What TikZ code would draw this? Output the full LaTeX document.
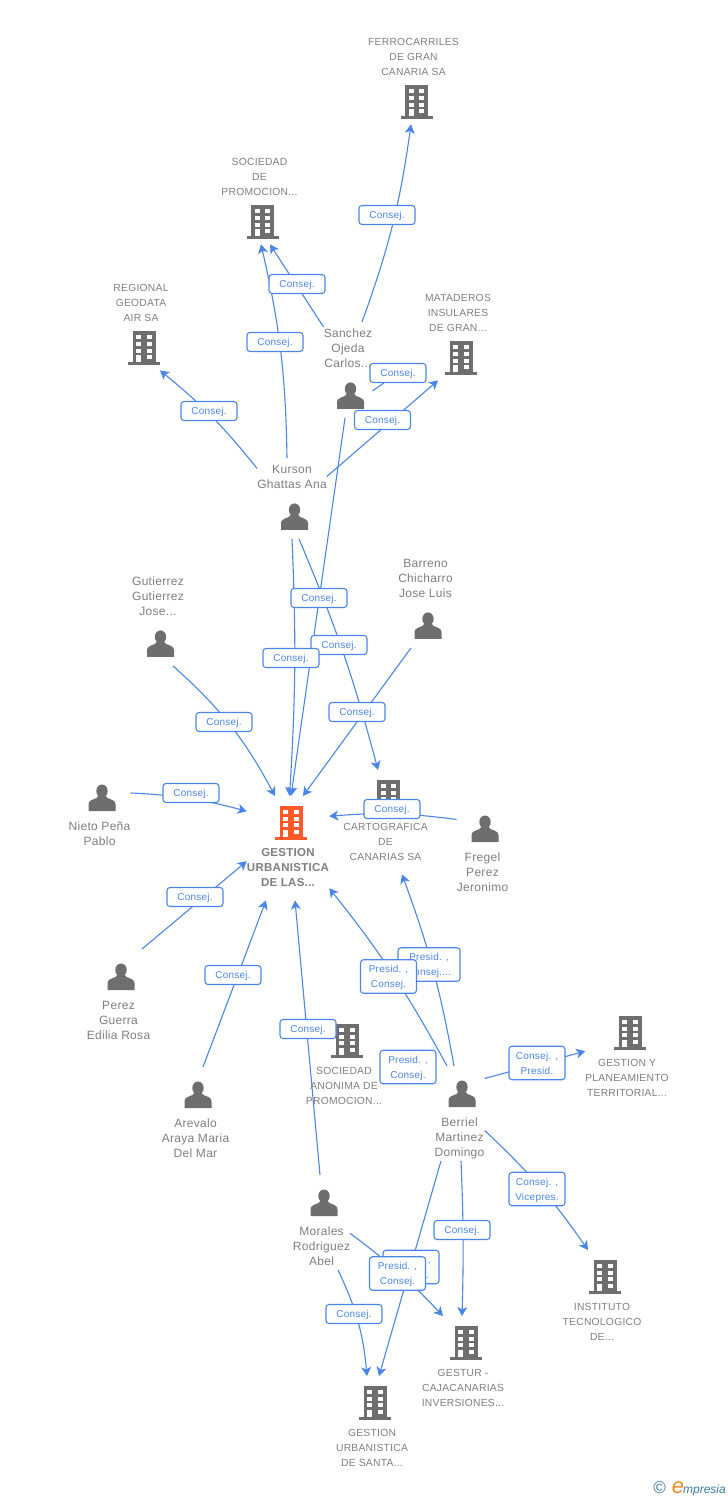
\documentclass[tikz,border=0pt]{standalone}
\usepackage{fontspec}
\setmainfont{Liberation Sans}
\newfontfamily\spaced[LetterSpace=2.5]{Liberation Sans}
\usetikzlibrary{arrows.meta,backgrounds}

\definecolor{iconGray}{HTML}{6E6E6E}
\definecolor{textGray}{HTML}{7E7E7E}
\definecolor{mainOrange}{HTML}{FF5A2A}
\definecolor{linkBlue}{HTML}{4A86E8}
\definecolor{logoBlue}{HTML}{3A7A9C}
\definecolor{logoOrange}{HTML}{F08A24}

% text above or below the icon, the node's box takes both
\newcommand{\firmdown}[1]{\rule{0pt}{45pt}\\#1\rule[-14pt]{0pt}{0pt}}
\newcommand{\firmup}[1]{\rule{0pt}{16pt}#1\rule[-49pt]{0pt}{0pt}}
\newcommand{\mandown}[1]{\rule{0pt}{45.5pt}\\#1\rule[-4pt]{0pt}{0pt}}
\newcommand{\manup}[1]{\rule{0pt}{15.5pt}#1\rule[-50pt]{0pt}{0pt}}

\tikzset{
	box/.style={anchor=north,align=center,inner sep=0pt,text=textGray},
	firm/.style={box,font=\spaced\fontsize{10.3}{15}\selectfont},
	man/.style={box,font=\spaced\fontsize{12}{15}\selectfont},
	tag/.style={draw=linkBlue,line width=1.1pt,fill=white,rounded corners=3pt,align=center,inner sep=0pt,text depth=0pt,
		minimum width=56pt,minimum height=19pt,text=linkBlue,font=\spaced\fontsize{10}{15}\selectfont},
	tagtwo/.style={tag,minimum height=33.5pt},
	link/.style={draw=linkBlue,line width=1.1pt,->},
	pics/firmicon/.style={code={
		\fill[#1] (-11.5,-17) rectangle (11.5,15);
		\fill[#1] (-16,14) rectangle (16,17);
		\foreach \wy in {-13,-6.3,0.3} {
			\fill[white] (-7.7,\wy) rectangle ++(5,4);
			\fill[white] (2.8,\wy) rectangle ++(5,4);
		}
		\fill[white] (-7.7,7) rectangle (-2.7,14);
		\fill[white] (2.8,7) rectangle ++(5,4);
	}},
	pics/firmicon/.default=iconGray,
	pics/manicon/.style={code={
		\fill[iconGray] (0,-7) ellipse (5.7 and 6.5);
		\fill[iconGray] (-13.5,13) -- (-13.5,6) .. controls (-13.5,2.5) and (-9,1.5) .. (-5.5,0) -- (-3,-3) -- (3,-3) -- (5.5,0)
			.. controls (9,1.5) and (13.5,2.5) .. (13.5,6) -- (13.5,13) -- cycle;
	}},
}

\begin{document}
\begin{tikzpicture}[x=1pt,y=-1pt,>={Stealth[length=9pt,width=10pt,inset=2.5pt]}]
	\path[use as bounding box] (0,0) rectangle (728,1500);

	\node[firm] (ferro) at (413.5,29) {\firmup{FERROCARRILES\\DE GRAN\\CANARIA SA}};
	\node[firm] (socprom) at (259.5,149) {\firmup{SOCIEDAD\\DE\\PROMOCION...}};
	\node[firm] (regional) at (141,275) {\firmup{REGIONAL\\GEODATA\\AIR SA}};
	\node[firm] (mataderos) at (458,285) {\firmup{MATADEROS\\INSULARES\\DE GRAN...}};
	\node[firm] (carto) at (385.5,770) {\firmdown{CARTOGRAFICA\\DE\\CANARIAS SA}};
	\node[firm,font=\spaced\bfseries\fontsize{11.5}{15}\selectfont] (main) at (288,796) {\firmdown{GESTION\\URBANISTICA\\DE LAS...}};
	\node[firm] (socanon) at (344,1014) {\firmdown{SOCIEDAD\\ANONIMA DE\\PROMOCION...}};
	\node[firm] (planea) at (627,1006) {\firmdown{GESTION Y\\PLANEAMIENTO\\TERRITORIAL...}};
	\node[firm] (instituto) at (602,1250) {\firmdown{INSTITUTO\\TECNOLOGICO\\DE...}};
	\node[firm] (gestur) at (463,1316) {\firmdown{GESTUR -\\CAJACANARIAS\\INVERSIONES...}};
	\node[firm] (santa) at (372,1376) {\firmdown{GESTION\\URBANISTICA\\DE SANTA...}};

	\node[man] (sanchez) at (348,322) {\manup{Sanchez\\Ojeda\\Carlos...}};
	\node[man] (kurson) at (292,458) {\manup{Kurson\\Ghattas Ana}};
	\node[man] (barreno) at (425.5,552) {\manup{Barreno\\Chicharro\\Jose Luis}};
	\node[man] (gutierrez) at (158,570) {\manup{Gutierrez\\Gutierrez\\Jose...}};
	\node[man] (nieto) at (99.5,770) {\mandown{Nieto Peña\\Pablo}};
	\node[man] (fregel) at (482.5,801) {\mandown{Fregel\\Perez\\Jeronimo}};
	\node[man] (perez) at (118.5,949) {\mandown{Perez\\Guerra\\Edilia Rosa}};
	\node[man] (arevalo) at (195.5,1067) {\mandown{Arevalo\\Araya Maria\\Del Mar}};
	\node[man] (berriel) at (459.5,1066) {\mandown{Berriel\\Martinez\\Domingo}};
	\node[man] (morales) at (321.5,1175) {\mandown{Morales\\Rodriguez\\Abel}};

	% icons
	\foreach \n in {ferro,socprom,regional,mataderos}
		\pic at ([shift={(3,-22)}]\n.south) {firmicon};
	\foreach \n in {carto,socanon,planea,instituto,gestur,santa}
		\pic at ([shift={(3,27)}]\n.north) {firmicon};
	\pic at ([shift={(3,27)}]main.north) {firmicon=mainOrange};
	\foreach \n in {sanchez,kurson,barreno,gutierrez}
		\pic at ([shift={(2.5,-22)}]\n.south) {manicon};
	\foreach \n in {nieto,fregel,perez,arevalo,berriel,morales}
		\pic at ([shift={(2.5,28)}]\n.north) {manicon};

	\node[tag] (tFerro) at (387,215) {Consej.};
	\node[tag] (tProm1) at (297,284) {Consej.};
	\node[tag] (tProm2) at (275,342) {Consej.};
	\node[tag] (tRegional) at (209,411) {Consej.};
	\node[tag] (tMat1) at (398,373) {Consej.};
	\node[tag] (tMat2) at (382.5,420) {Consej.};
	\node[tag] (tSanchez) at (319,598) {Consej.};
	\node[tag] (tKursonC) at (339,645) {Consej.};
	\node[tag] (tKurson) at (291,658) {Consej.};
	\node[tag] (tBarreno) at (357,712) {Consej.};
	\node[tag] (tGut) at (224,722) {Consej.};
	\node[tag] (tNieto) at (191,793) {Consej.};
	\node[tag] (tFregel) at (392,809) {Consej.};
	\node[tag] (tPerez) at (195,897) {Consej.};
	\node[tag] (tArevalo) at (233,975) {Consej.};
	\node[tag] (tMorales) at (308,1029) {Consej.};
	\node[tagtwo,minimum width=62pt] (tBerCarto) at (429,964.5) {Presid. ,\\Consej....};
	\node[tagtwo] (tBerMain) at (388.5,976.5) {Presid. ,\\Consej.};
	\node[tagtwo] (tBerAnon) at (408,1067) {Presid. ,\\Consej.};
	\node[tagtwo] (tPlanea) at (537,1063) {Consej. ,\\Presid.};
	\node[tagtwo] (tInst) at (537,1189) {Consej. ,\\Vicepres.};
	\node[tag] (tGestur) at (462,1230) {Consej.};
	\node[tagtwo] (tMorGestur) at (411,1267) {Presid. ,\\Consej.};
	\node[tagtwo] (tSanta) at (397.5,1273.5) {Presid. ,\\Consej.};
	\node[tag] (tMorSanta) at (354,1314) {Consej.};

	\node (logo) [anchor=east,inner sep=0pt] at (726,1489) {{\color{logoBlue}\fontsize{17}{17}\selectfont ©}\hspace{6pt}{\color{logoOrange}\fontsize{22}{22}\selectfont\itshape e}\hspace{-1pt}{\color{logoBlue}\fontsize{12}{12}\selectfont\itshape mpresia}};

	\begin{scope}[on background layer]
		\draw[link] ([xshift=14pt]sanchez.north) to[bend right=6] ([xshift=-2.5pt]ferro.south);
		\draw[link] ([yshift=43pt]sanchez.west) to ([xshift=10.5pt]socprom.south);
		\draw[link] ([xshift=-5pt]kurson.north) to[bend right=6] ([xshift=1.5pt]socprom.south);
		\draw[link] ([yshift=30pt]kurson.west) to[bend right=6] ([xshift=19pt]regional.south);
		\draw[link,-] ([yshift=-21pt]sanchez.east) to (tMat1);
		\draw[link] ([yshift=22pt]kurson.east) to ([xshift=-20pt]mataderos.south);
		\draw[link] ([xshift=-3pt]sanchez.south) to ([xshift=3pt]main.north);
		\draw[link] ([xshift=7pt]kurson.south) to[bend left=4] ([xshift=-7.5pt]carto.north);
		\draw[link] (kurson.south) to[bend left=3] ([xshift=1.5pt]main.north);
		\draw[link] ([xshift=-14.5pt]barreno.south) to ([xshift=15pt]main.north);
		\draw[link] ([xshift=15pt]gutierrez.south) to[bend left=10] ([xshift=-13pt]main.north);
		\draw[link] ([yshift=17pt]nieto.east) to[bend left=6] ([yshift=37pt]main.west);
		\draw[link] ([yshift=29pt]fregel.west) to[bend right=6] ([yshift=32pt]main.east);
		\draw[link] ([xshift=23.5pt]perez.north) to ([yshift=-13pt]main.west);
		\draw[link] ([xshift=7.5pt]arevalo.north) to ([xshift=-22pt]main.south);
		\draw[link] ([xshift=-1.5pt]morales.north) to ([xshift=7pt]main.south);
		\draw[link] ([xshift=-5.5pt]berriel.north) to[bend right=5] ([xshift=16.5pt]carto.south);
		\draw[link] ([xshift=-12.5pt]berriel.north) to[bend right=5] ([yshift=-40pt]main.east);
		\draw[link] ([yshift=35pt]berriel.east) to ([yshift=7pt]planea.west);
		\draw[link] ([yshift=-17pt]berriel.east) to[bend left=6] ([xshift=-14pt]instituto.north);
		\draw[link] ([xshift=1.5pt]berriel.south) to[bend left=2] ([xshift=-1pt]gestur.north);
		\draw[link] ([xshift=-18.5pt]berriel.south) to ([xshift=7pt]santa.north);
		\draw[link] ([yshift=-11pt]morales.east) to[bend left=5] ([xshift=-20pt]gestur.north);
		\draw[link] ([xshift=16.5pt]morales.south) to[bend left=10] ([xshift=-5pt]santa.north);
	\end{scope}
\end{tikzpicture}
\end{document}
